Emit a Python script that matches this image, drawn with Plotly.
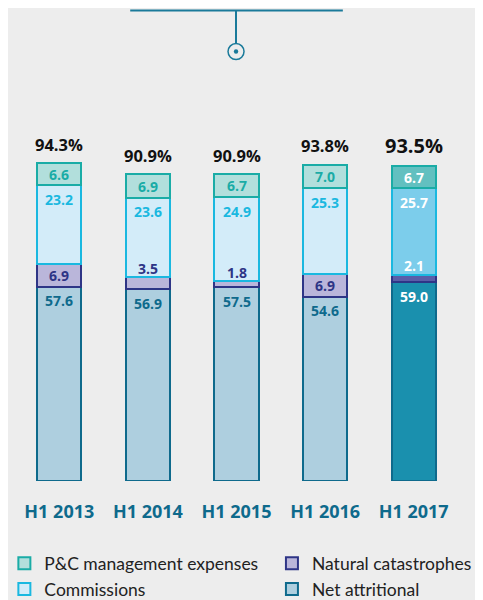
import plotly.graph_objects as go

years = ["H1 2013", "H1 2014", "H1 2015", "H1 2016", "H1 2017"]
net_attritional = [57.6, 56.9, 57.5, 54.6, 59.0]
nat_cat = [6.9, 3.5, 1.8, 6.9, 2.1]
commissions = [23.2, 23.6, 24.9, 25.3, 25.7]
pc_expenses = [6.6, 6.9, 6.7, 7.0, 6.7]
combined_ratio = [94.3, 90.9, 90.9, 93.8, 93.5]

BG = "#ededed"
TEAL_DARK = "#0e6a8c"
FONT = "Open Sans"

# (name, values, light fill, 2017 fill, border, label colour, legend, rank)
series = [
    ("Net attritional", net_attritional, "#aecfdf", "#1a90ae", "#0e6a8c", "#0e6a8c", "legend2", 2),
    ("Natural catastrophes", nat_cat, "#bab6da", "#5a5ea8", "#2e3586", "#2e3586", "legend2", 1),
    ("Commissions", commissions, "#d3ecf9", "#7ccdeb", "#1ab8e0", "#1ab8e0", "legend", 2),
    ("P&C management expenses", pc_expenses, "#b2dfdc", "#62c0c0", "#1aaca6", "#1aaca6", "legend", 1),
]

fig = go.Figure()
annotations = []
base = [0.0] * len(years)
for name, vals, fill, fill_hi, border, txt, leg, rank in series:
    fills = [fill] * (len(years) - 1) + [fill_hi]
    fig.add_trace(
        go.Bar(
            x=years,
            y=vals,
            name=name,
            width=0.5,
            legend=leg,
            legendrank=rank,
            marker=dict(color=fills, line=dict(color=border, width=2)),
            hoverinfo="skip",
        )
    )
    for i, (yr, v) in enumerate(zip(years, vals)):
        top = base[i] + v
        col = "white" if i == len(years) - 1 else txt
        if name in ("Net attritional", "Commissions"):
            y, shift = top, -14
        elif v < 5:
            y, shift = top, 9
        else:
            y, shift = base[i] + v / 2, 0
        annotations.append(
            dict(
                x=yr, y=y, yshift=shift, text=f"<b>{v:.1f}</b>", showarrow=False,
                font=dict(family=FONT, size=14, color=col),
            )
        )
        base[i] = top

for i, (yr, tot) in enumerate(zip(years, combined_ratio)):
    last = i == len(years) - 1
    annotations.append(
        dict(
            x=yr, y=tot, yshift=20 if last else 19, text=f"<b>{tot:.1f}%</b>",
            showarrow=False,
            font=dict(family=FONT, size=20 if last else 16.5, color="#111111"),
        )
    )

# page is drawn with an 8px body offset; target positions below are screen pixels
OFF = 8
H = 472.7  # plot area height in figure pixels
def py(p):
    return (H - (p - OFF)) / H

def px_(p):
    return (p - OFF - 6.6) / 443.75

line_col = "#1a7a9a"
shapes = [
    dict(type="line", xref="paper", yref="paper", x0=px_(130), x1=px_(343), y0=py(10.5), y1=py(10.5),
         line=dict(color=line_col, width=2)),
    dict(type="line", xref="paper", yref="paper", x0=px_(236), x1=px_(236), y0=py(10.5), y1=py(43),
         line=dict(color=line_col, width=2)),
    dict(type="circle", xref="paper", yref="paper", xsizemode="pixel", ysizemode="pixel",
         xanchor=px_(236), yanchor=py(51.5), x0=-8, x1=8, y0=-8, y1=8,
         line=dict(color=line_col, width=1.5)),
    dict(type="circle", xref="paper", yref="paper", xsizemode="pixel", ysizemode="pixel",
         xanchor=px_(236), yanchor=py(51.5), x0=-2.2, x1=2.2, y0=-2.2, y1=2.2,
         fillcolor=line_col, line=dict(color=line_col, width=0)),
]

ticktext = [f"<b>{y}</b>" for y in years]
legend_font = dict(family="Lato", size=17.5, color="#222222")

fig.update_layout(
    width=483,
    height=600,
    margin=dict(l=6.6, r=32.65, t=0, b=127.3, autoexpand=False),
    paper_bgcolor=BG,
    plot_bgcolor=BG,
    barmode="stack",
    showlegend=True,
    annotations=annotations,
    shapes=shapes,
    xaxis=dict(
        tickvals=years, ticktext=ticktext, showgrid=False, zeroline=False, showline=False,
        ticks="", tickfont=dict(family=FONT, size=18, color=TEAL_DARK), ticklabelstandoff=18,
    ),
    yaxis=dict(range=[0, H / 3.37], showgrid=False, zeroline=False, showticklabels=False),
    legend=dict(
        orientation="v", x=-0.024, xanchor="left", y=-0.136, yanchor="top",
        traceorder="normal", font=legend_font, bgcolor="rgba(0,0,0,0)",
    ),
    legend2=dict(
        orientation="v", x=0.580, xanchor="left", y=-0.136, yanchor="top",
        traceorder="normal", font=legend_font, bgcolor="rgba(0,0,0,0)",
    ),
)

fig.write_html("out.html")
